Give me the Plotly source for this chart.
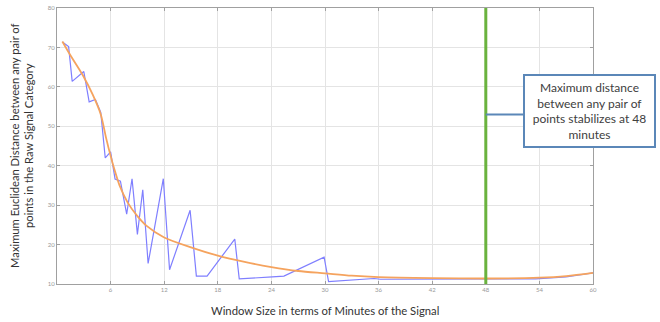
import plotly.graph_objects as go

# Maximum pairwise Euclidean distance vs. window size (minutes)
window_min = [0.6, 1.3, 1.7, 3.0, 3.6, 4.3, 4.9, 5.4, 6.0, 6.5, 7.1, 7.8, 8.4, 9.0,
              9.6, 10.2, 11.9, 12.6, 14.9, 15.6, 16.8, 18.1, 19.9, 20.4, 21.5,
              24.1, 25.4, 29.9, 30.4, 32.9, 35.5, 36.2, 42.0, 48.0, 53.6, 57.0, 60.0]
max_distance = [71.4, 70.2, 61.4, 63.9, 56.2, 56.8, 53.5, 42.0, 43.5, 36.6, 36.1,
                27.7, 36.7, 22.6, 33.9, 15.2, 36.7, 13.6, 28.7, 12.0, 12.0, 16.0,
                21.4, 11.3, 11.4, 11.8, 12.0, 16.8, 10.6, 11.0, 11.4, 11.2, 11.2,
                11.2, 11.3, 11.8, 12.8]

# Smoothed trend
trend_min = [0.6, 1.5, 3.0, 4.0, 4.9, 5.5, 6.0, 6.5, 7.0, 7.9, 9.0, 10.0, 12.0,
             15.0, 18.0, 21.0, 24.0, 27.0, 30.0, 33.0, 36.0, 42.0, 48.0, 54.0,
             57.0, 60.0]
trend_distance = [71.5, 68.0, 62.5, 58.0, 53.0, 47.0, 42.5, 38.5, 35.0, 30.7, 27.2,
                  24.8, 21.8, 19.3, 17.2, 15.6, 14.3, 13.3, 12.7, 12.1, 11.75,
                  11.5, 11.4, 11.6, 12.0, 12.8]

x_ticks = [6, 12, 18, 24, 30, 36, 42, 48, 54, 60]
y_ticks = [10, 20, 30, 40, 50, 60, 70, 80]

stable_min = 48
note_text = "Maximum distance<br>between any pair of<br>points stabilizes at 48<br>minutes"
x_title = "Window Size in terms of Minutes of the Signal"
y_title = ("Maximum Euclidean Distance between any pair of<br>"
           "points in the Raw Signal Category")

FONT = "Lato, 'Open Sans', sans-serif"

fig = go.Figure()
fig.add_trace(go.Scatter(x=window_min, y=max_distance, mode="lines",
                         line=dict(color="#7f7fff", width=1.2), showlegend=False))
fig.add_trace(go.Scatter(x=trend_min, y=trend_distance, mode="lines",
                         line=dict(color="#f5a35e", width=1.8, shape="spline",
                                   smoothing=0.8),
                         showlegend=False))

# Vertical marker at the stabilization point
fig.add_shape(type="line", xref="x", yref="paper", x0=stable_min, x1=stable_min,
              y0=0, y1=1, line=dict(color="#6ab23e", width=3), layer="above")
# Connector from the marker to the callout
fig.add_shape(type="line", xref="x", yref="y", x0=stable_min, x1=52.2,
              y0=53, y1=53, line=dict(color="#5b87b8", width=2), layer="above")

fig.add_annotation(xref="paper", yref="paper", x=0.9935, y=0.627,
                   xanchor="center", yanchor="middle", text=note_text,
                   showarrow=False, align="center", width=127, height=68,
                   bgcolor="white", bordercolor="#5b87b8", borderwidth=2,
                   borderpad=1, font=dict(family=FONT, size=12, color="#404040"))

fig.add_annotation(xref="paper", yref="paper", x=0.5, y=-0.096,
                   xanchor="center", yanchor="middle", text=x_title, showarrow=False,
                   font=dict(family=FONT, size=11.3, color="#333333"))
fig.add_annotation(xref="paper", yref="paper", x=-0.0655, y=0.5,
                   xanchor="center", yanchor="middle", text=y_title, showarrow=False,
                   textangle=-90, font=dict(family=FONT, size=11.2, color="#333333"))

axis_common = dict(showline=True, linecolor="#a0a0a0", linewidth=1, mirror="ticks",
                   ticks="inside", ticklen=3, tickcolor="#a0a0a0",
                   showgrid=True, gridcolor="#e4e4e4", gridwidth=1, zeroline=False,
                   tickfont=dict(family=FONT, size=6, color="#999999"))

fig.update_xaxes(range=[0, 60], tickvals=x_ticks, **axis_common)
fig.update_yaxes(range=[10, 80], tickvals=y_ticks, **axis_common)

fig.update_layout(width=660, height=322, margin=dict(l=57, r=67, t=4, b=38),
                  plot_bgcolor="white", paper_bgcolor="white",
                  font=dict(family=FONT))

fig.write_html("out.html")
